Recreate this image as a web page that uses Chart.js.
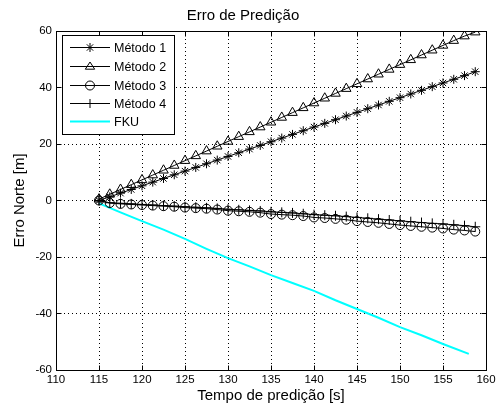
<!DOCTYPE html>
<html>
<head>
<meta charset="utf-8">
<title>Erro de Predição</title>
<script src="https://cdn.jsdelivr.net/npm/chart.js@4.4.1/dist/chart.umd.min.js"></script>
<style>
  html, body { margin: 0; padding: 0; background: #fff; }
  #wrap { width: 499px; height: 412px; }
</style>
</head>
<body>
<div id="wrap"><canvas id="predChart" width="499" height="412"></canvas></div>
<script>
// Tempo de predição [s] (eixo x dos métodos)
const tempo = [115, 116.25, 117.5, 118.75, 120, 121.25, 122.5, 123.75, 125, 126.25,
               127.5, 128.75, 130, 131.25, 132.5, 133.75, 135, 136.25, 137.5, 138.75,
               140, 141.25, 142.5, 143.75, 145, 146.25, 147.5, 148.75, 150, 151.25,
               152.5, 153.75, 155, 156.25, 157.5, 158.75];

// Erro Norte [m] de cada método
const metodo1 = [0, 1.3, 2.6, 3.9, 5.2, 6.5, 7.8, 9.1, 10.4, 11.7,
                 13.0, 14.3, 15.6, 16.9, 18.2, 19.5, 20.8, 22.1, 23.4, 24.7,
                 26.0, 27.3, 28.6, 29.9, 31.2, 32.5, 33.8, 35.1, 36.4, 37.7,
                 39.0, 40.3, 41.6, 42.9, 44.2, 45.6];
const metodo2 = [0.5, 2.2, 3.9, 5.6, 7.3, 9.0, 10.7, 12.4, 14.1, 15.8,
                 17.5, 19.2, 20.9, 22.6, 24.3, 26.0, 27.7, 29.4, 31.1, 32.8,
                 34.5, 36.2, 37.9, 39.6, 41.3, 43.0, 44.7, 46.4, 48.1, 49.8,
                 51.5, 53.2, 54.9, 56.6, 58.2, 59.6];
const metodo3 = [0, -0.9, -1.2, -1.4, -1.6, -1.8, -2.0, -2.2, -2.5, -2.7,
                 -2.9, -3.2, -3.6, -3.8, -4.0, -4.3, -4.8, -5.0, -5.2, -5.5,
                 -6.0, -6.2, -6.5, -6.8, -7.3, -7.6, -7.9, -8.3, -8.7, -9.0,
                 -9.3, -9.6, -9.9, -10.3, -10.6, -11.0];
const metodo4 = [0, -0.8, -1.0, -1.2, -1.4, -1.6, -1.8, -2.0, -2.2, -2.4,
                 -2.6, -2.8, -3.1, -3.3, -3.5, -3.7, -4.0, -4.2, -4.4, -4.7,
                 -5.0, -5.2, -5.4, -5.7, -6.0, -6.3, -6.6, -6.9, -7.2, -7.5,
                 -7.8, -8.1, -8.3, -8.6, -8.9, -9.3];

// FKU (linha ciano, sem marcadores)
const tempoFKU = [115, 117.5, 120, 122.5, 125, 127.5, 130, 132.5, 135, 137.5,
                  140, 142.5, 145, 147.5, 150, 152.5, 155, 158];
const fku = [-1.0, -4.2, -7.3, -10.3, -13.6, -17.1, -20.4, -23.3, -26.4, -29.2,
             -32.0, -35.3, -38.4, -41.5, -44.8, -47.7, -50.8, -54.3];

// Ticks dos eixos
const ticksX = [110, 115, 120, 125, 130, 135, 140, 145, 150, 155, 160];
const ticksY = [-60, -40, -20, 0, 20, 40, 60];

const rotulos = ['Método 1', 'Método 2', 'Método 3', 'Método 4', 'FKU'];

const FONTE = 'Arial, "Liberation Sans", Helvetica, sans-serif';

function pares(xs, ys) {
    return xs.map((x, i) => ({ x: x, y: ys[i] }));
}

// desenha marcador estilo MATLAB (usado na legenda)
function marcador(ctx, tipo, x, y, r) {
    ctx.beginPath();
    if (tipo === 'star') {
        ctx.moveTo(x - r, y); ctx.lineTo(x + r, y);
        ctx.moveTo(x, y - r); ctx.lineTo(x, y + r);
        const d = r * 0.7071;
        ctx.moveTo(x - d, y - d); ctx.lineTo(x + d, y + d);
        ctx.moveTo(x - d, y + d); ctx.lineTo(x + d, y - d);
    } else if (tipo === 'triangle') {
        ctx.moveTo(x, y - r);
        ctx.lineTo(x + r * 1.04, y + r * 0.6);
        ctx.lineTo(x - r * 1.04, y + r * 0.6);
        ctx.closePath();
    } else if (tipo === 'circle') {
        ctx.arc(x, y, r, 0, Math.PI * 2);
    } else if (tipo === 'cross') {
        ctx.moveTo(x - r, y); ctx.lineTo(x + r, y);
        ctx.moveTo(x, y - r); ctx.lineTo(x, y + r);
    }
    ctx.stroke();
}

// caixa dos eixos + ticks para dentro (estilo MATLAB)
const caixaEixos = {
    id: 'caixaEixos',
    afterDatasetsDraw(chart) {
        const { ctx, chartArea: a, scales } = chart;
        const L = Math.floor(a.left) + 0.5, R = Math.floor(a.right) + 0.5;
        const T = Math.floor(a.top) + 0.5, B = Math.floor(a.bottom) + 0.5;
        ctx.save();
        ctx.strokeStyle = '#000';
        ctx.lineWidth = 1;
        ctx.strokeRect(L, T, R - L, B - T);
        ctx.beginPath();
        ticksX.forEach(v => {
            const px = Math.floor(scales.x.getPixelForValue(v)) + 0.5;
            ctx.moveTo(px, B); ctx.lineTo(px, B - 5);
            ctx.moveTo(px, T); ctx.lineTo(px, T + 5);
        });
        ticksY.forEach(v => {
            const py = Math.floor(scales.y.getPixelForValue(v)) + 0.5;
            ctx.moveTo(L, py); ctx.lineTo(L + 5, py);
            ctx.moveTo(R, py); ctx.lineTo(R - 5, py);
        });
        ctx.stroke();
        ctx.restore();
    }
};

// legenda dentro do gráfico, canto superior esquerdo
const legendaMatlab = {
    id: 'legendaMatlab',
    afterDraw(chart) {
        const ctx = chart.ctx;
        const bx = 62.5, by = 35.5, bw = 112, bh = 99;
        ctx.save();
        ctx.fillStyle = '#fff';
        ctx.fillRect(bx, by, bw, bh);
        ctx.strokeStyle = '#000';
        ctx.lineWidth = 1;
        ctx.strokeRect(bx, by, bw, bh);
        const linhasY = [47.5, 66.5, 85.5, 103.5, 121.5];
        ctx.font = '12.5px ' + FONTE;
        ctx.textBaseline = 'middle';
        ctx.textAlign = 'left';
        chart.data.datasets.forEach((ds, i) => {
            const y = linhasY[i];
            ctx.strokeStyle = ds.borderColor;
            ctx.lineWidth = ds.borderWidth;
            ctx.beginPath();
            ctx.moveTo(70, y); ctx.lineTo(110, y);
            ctx.stroke();
            if (ds.pointRadius > 0) {
                ctx.lineWidth = 1;
                ctx.strokeStyle = '#000';
                marcador(ctx, ds.pointStyle, 90, y, 4.5);
            }
            ctx.fillStyle = '#000';
            ctx.fillText(rotulos[i], 114, y + 1);
        });
        ctx.restore();
    }
};

function linhaMetodo(i, ys, estilo, raio) {
    return {
        label: rotulos[i],
        data: pares(tempo, ys),
        showLine: true,
        borderColor: '#000',
        borderWidth: 1,
        pointStyle: estilo,
        pointRadius: raio,
        pointBorderColor: '#000',
        pointBackgroundColor: 'rgba(0,0,0,0)',
        pointBorderWidth: 1,
        pointHoverRadius: raio
    };
}

const ctx = document.getElementById('predChart').getContext('2d');
new Chart(ctx, {
    type: 'scatter',
    data: {
        datasets: [
            linhaMetodo(0, metodo1, 'star', 4.5),
            linhaMetodo(1, metodo2, 'triangle', 5.5),
            linhaMetodo(2, metodo3, 'circle', 4.5),
            linhaMetodo(3, metodo4, 'cross', 5),
            {
                label: rotulos[4],
                data: pares(tempoFKU, fku),
                showLine: true,
                borderColor: '#00ffff',
                borderWidth: 2,
                pointRadius: 0,
                pointHoverRadius: 0
            }
        ]
    },
    options: {
        responsive: false,
        animation: false,
        devicePixelRatio: 1,
        layout: { padding: { left: 0, right: 13, top: 0, bottom: 0 } },
        plugins: {
            legend: { display: false },
            tooltip: { enabled: false },
            title: {
                display: true,
                text: 'Erro de Predição',
                color: '#000',
                font: { family: FONTE, size: 15, weight: 'normal' },
                padding: { top: 7, bottom: 6 }
            }
        },
        scales: {
            x: {
                type: 'linear',
                min: 110, max: 160,
                afterFit(s) { s.height = 42; },
                afterBuildTicks(s) { s.ticks = ticksX.map(v => ({ value: v })); },
                grid: { color: '#000', lineWidth: 1, drawTicks: false },
                border: { display: false, dash: [1, 3] },
                ticks: {
                    color: '#000', padding: 3, maxRotation: 0,
                    font: { family: FONTE, size: 11.5 }
                },
                title: {
                    display: true, text: 'Tempo de predição [s]', color: '#000',
                    font: { family: FONTE, size: 15 },
                    padding: { top: 0, bottom: 7 }
                }
            },
            y: {
                type: 'linear',
                min: -60, max: 60,
                afterFit(s) { s.width = 56; },
                afterBuildTicks(s) { s.ticks = ticksY.map(v => ({ value: v })); },
                grid: { color: '#000', lineWidth: 1, drawTicks: false },
                border: { display: false, dash: [1, 3] },
                ticks: {
                    color: '#000', padding: 4,
                    font: { family: FONTE, size: 11.5 }
                },
                title: {
                    display: true, text: 'Erro Norte [m]', color: '#000',
                    font: { family: FONTE, size: 15 },
                    padding: { top: 11, bottom: 0 }
                }
            }
        }
    },
    plugins: [caixaEixos, legendaMatlab]
});
</script>
</body>
</html>
